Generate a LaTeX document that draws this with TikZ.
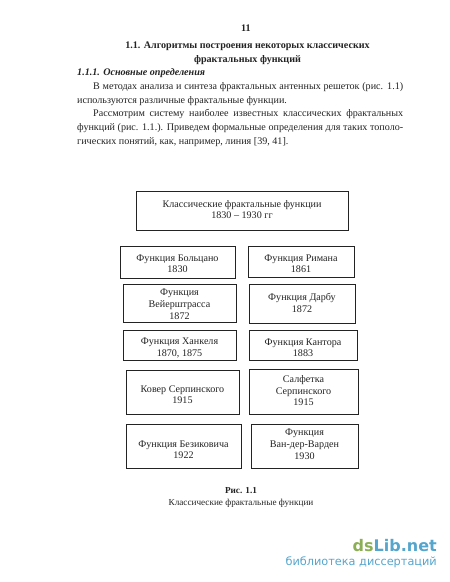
\documentclass[tikz,border=0pt]{standalone}
\usepackage{fontspec}
\setmainfont{Liberation Serif}
\newfontfamily\wmfont{DejaVu Sans}
\usepackage{xcolor}
\usetikzlibrary{positioning}
\definecolor{inkgray}{RGB}{35, 35, 35}
\definecolor{wmgreen}{RGB}{140, 175, 85}
\definecolor{wmblue}{RGB}{85, 165, 205}
\newcommand{\lowerby}[1]{\rule{0pt}{\dimexpr 7pt+2\dimexpr #1pt\relax\relax}}
\newcommand{\raiseby}[1]{\rule[-2\dimexpr #1pt\relax]{0pt}{2\dimexpr #1pt\relax}}
\tikzset{
    funcbox/.style={draw=inkgray, line width=1pt, align=center, inner sep=0pt, font=\fontsize{10.1}{11.9}\selectfont, text=inkgray},
    pagetext/.style={text=inkgray, inner sep=0pt, font=\fontsize{10.1}{13.8}\selectfont}
}
\begin{document}
\begin{tikzpicture}[x=1pt, y=-1pt]
\useasboundingbox (0,0) rectangle (450,582);

% Page head
\node[pagetext, font=\fontsize{10.1}{13.8}\selectfont\bfseries] (pagenum) at (246,28) {11};
\node[pagetext, font=\fontsize{10.1}{13.8}\selectfont\bfseries, align=center] (heading) at (247.5,53) {1.1. Алгоритмы построения некоторых классических\\фрактальных функций};
\node[pagetext, font=\fontsize{10.1}{13.8}\selectfont\bfseries\itshape, anchor=west] (subheading) at (77,73.5) {1.1.1. Основные определения};
\node[pagetext, text width=326pt, align=justify, anchor=north west] (para) at (77,82) {%
\hspace*{16pt}В методах анализа и синтеза фрактальных антенных решеток (рис. 1.1)\linebreak используются различные фрактальные функции.\\
\hspace*{16pt}Рассмотрим систему наиболее известных классических фрактальных\linebreak функций (рис. 1.1.). Приведем формальные определения для таких тополо-\linebreak гических понятий, как, например, линия [39, 41].};

% Title box
\node[funcbox, minimum width=212pt, minimum height=39pt] (classic) at (242,210.5) {Классические фрактальные функции\\1830 -- 1930 гг\raiseby{1}};

% Left column
\node[funcbox, minimum width=115pt, minimum height=32pt] (bolzano) at (177.5,262) {\lowerby{1.5}Функция Больцано\\1830};
\node[funcbox, minimum width=113pt, minimum height=38pt] (weier) at (179.5,303) {\lowerby{1}Функция\\Вейерштрасса\\1872};
\node[funcbox, minimum width=113pt, minimum height=30pt] (hankel) at (179.5,345) {\lowerby{2.5}Функция Ханкеля\\1870, 1875};
\node[funcbox, minimum width=113pt, minimum height=44pt] (carpet) at (182.5,392) {\lowerby{2.5}Ковер Серпинского\\1915};
\node[funcbox, minimum width=115pt, minimum height=44pt] (besicovitch) at (183.5,446) {\lowerby{3.5}Функция Безиковича\\1922};

% Right column
\node[funcbox, minimum width=106pt, minimum height=31pt] (riemann) at (301,261.5) {\lowerby{2}Функция Римана\\1861};
\node[funcbox, minimum width=106pt, minimum height=39pt] (darboux) at (302,303.5) {Функция Дарбу\\1872\raiseby{1}};
\node[funcbox, minimum width=108pt, minimum height=30pt] (cantor) at (303,345) {\lowerby{2.5}Функция Кантора\\1883};
\node[funcbox, minimum width=109pt, minimum height=45pt] (napkin) at (303.5,391.5) {Салфетка\\Серпинского\\1915\raiseby{1}};
\node[funcbox, minimum width=107pt, minimum height=44pt] (waerden) at (304.5,446) {Функция\\Ван-дер-Варден\\1930\raiseby{2}};

% Caption
\node[pagetext, font=\fontsize{9.2}{11.3}\selectfont, align=center] (caption) at (241,497.5) {\textbf{Рис. 1.1}\\Классические фрактальные функции};

% Watermark
\node[inner sep=0pt, anchor=east, font=\fontsize{16}{16}\wmfont\bfseries\selectfont] (wmname) at (437,546) {\textcolor{wmgreen}{ds}\textcolor{wmblue}{Lib.net}};
\node[inner sep=0pt, anchor=east, text=wmblue, font=\fontsize{11.3}{12}\wmfont\selectfont] (wmsub) at (437,562) {библиотека диссертаций};
\end{tikzpicture}
\end{document}
